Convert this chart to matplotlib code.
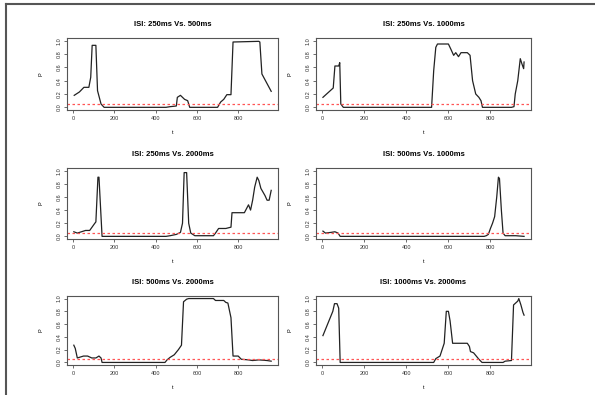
import matplotlib
matplotlib.use("Agg")
import matplotlib.pyplot as plt
from matplotlib.lines import Line2D

plt.rcParams["font.family"] = ["Liberation Sans", "DejaVu Sans"]

# panel titles
titles = [
    "ISI: 250ms Vs. 500ms", "ISI: 250ms Vs. 1000ms",
    "ISI: 250ms Vs. 2000ms", "ISI: 500ms Vs. 1000ms",
    "ISI: 500ms Vs. 2000ms", "ISI: 1000ms Vs. 2000ms",
]

# t / P curves
t1 = [5, 30, 52, 76, 85, 92, 110, 118, 135, 150, 450, 470, 500, 505, 520, 540, 555, 565,
      700, 715, 730, 745, 765, 775, 900, 905, 915, 960]
p1 = [0.18, 0.23, 0.3, 0.3, 0.45, 0.93, 0.93, 0.25, 0.05, 0.0, 0.0, 0.01, 0.02, 0.15, 0.18,
      0.12, 0.1, 0.0, 0.0, 0.08, 0.12, 0.19, 0.19, 0.98, 0.99, 0.98, 0.5, 0.24]

t2 = [3, 52, 60, 78, 83, 88, 100, 520, 530, 540, 548, 600, 612, 625, 635, 648, 660, 690,
      700, 703, 715, 730, 745, 755, 762, 900, 912, 918, 930, 942, 950, 958, 960]
p2 = [0.15, 0.29, 0.62, 0.62, 0.67, 0.05, 0.0, 0.0, 0.55, 0.9, 0.95, 0.95, 0.87, 0.78,
      0.82, 0.76, 0.82, 0.82, 0.79, 0.78, 0.4, 0.2, 0.15, 0.1, 0.0, 0.0, 0.01, 0.2, 0.4,
      0.73, 0.65, 0.58, 0.68]

t3 = [3, 20, 40, 60, 80, 105, 110, 120, 125, 140, 450, 470, 500, 520, 530, 538, 550, 560,
      570, 590, 680, 690, 705, 740, 765, 770, 830, 840, 850, 860, 870, 880, 892, 900, 910,
      930, 940, 950, 960]
p3 = [0.07, 0.05, 0.07, 0.09, 0.09, 0.2, 0.22, 0.9, 0.9, 0.0, 0.0, 0.01, 0.03, 0.06, 0.2,
      0.97, 0.97, 0.2, 0.05, 0.01, 0.01, 0.05, 0.12, 0.12, 0.14, 0.36, 0.36, 0.42, 0.48,
      0.4, 0.55, 0.75, 0.9, 0.85, 0.73, 0.62, 0.55, 0.55, 0.7]

t4 = [3, 15, 40, 60, 75, 85, 770, 780, 790, 800, 810, 820, 830, 838, 843, 852, 860, 870,
      920, 960]
p4 = [0.08, 0.05, 0.06, 0.07, 0.05, 0.0, 0.0, 0.01, 0.03, 0.12, 0.2, 0.3, 0.6, 0.9, 0.88,
      0.4, 0.05, 0.01, 0.01, 0.0]

t5 = [3, 10, 20, 30, 50, 70, 90, 110, 125, 135, 140, 445, 455, 470, 490, 510, 525, 535,
      550, 560, 680, 690, 730, 740, 750, 765, 775, 800, 815, 850, 870, 900, 940, 960]
p5 = [0.27, 0.22, 0.07, 0.08, 0.1, 0.1, 0.07, 0.07, 0.1, 0.07, 0.0, 0.0, 0.04, 0.08, 0.12,
      0.2, 0.27, 0.95, 0.99, 1.0, 1.0, 0.97, 0.97, 0.94, 0.93, 0.7, 0.1, 0.1, 0.05, 0.04,
      0.03, 0.04, 0.03, 0.02]

t6 = [3, 50, 58, 70, 78, 85, 530, 540, 560, 580, 590, 600, 608, 620, 690, 700, 705, 720,
      745, 760, 860, 870, 900, 910, 930, 935, 945, 955, 960]
p6 = [0.42, 0.8, 0.92, 0.92, 0.85, 0.0, 0.0, 0.06, 0.1, 0.3, 0.8, 0.8, 0.65, 0.3, 0.3,
      0.25, 0.17, 0.15, 0.05, 0.0, 0.0, 0.02, 0.03, 0.9, 0.96, 1.0, 0.9, 0.78, 0.74]

series = [(t1, p1), (t2, p2), (t3, p3), (t4, p4), (t5, p5), (t6, p6)]
alpha = 0.05

W, H = 595, 395
fig = plt.figure(figsize=(W / 100, H / 100), dpi=100)

# box positions in pixels: (left, right) and (top, bottom)
cols = [(67, 278), (316, 531)]
rows = [(38, 110), (168, 239), (296, 365)]

for i, (title, (t, p)) in enumerate(zip(titles, series)):
    x0, x1 = cols[i % 2]
    y0, y1 = rows[i // 2]
    ax = fig.add_axes([x0 / W, 1 - y1 / H, (x1 - x0) / W, (y1 - y0) / H])
    ax.plot(t, p, color="#222222", lw=0.9)
    ax.axhline(alpha, color="#ff5555", ls=(0, (2, 2)), lw=0.9)
    ax.set_xlim(-30, 993)
    ax.set_ylim(-0.04, 1.04)
    ax.set_xticks([0, 200, 400, 600, 800])
    ax.set_yticks([0.0, 0.2, 0.4, 0.6, 0.8, 1.0])
    ax.set_yticklabels(["0.0", "0.2", "0.4", "0.6", "0.8", "1.0"], rotation=90, va="center")
    ax.tick_params(labelsize=4, length=2, width=0.5, pad=2, colors="#333333")
    for s in ax.spines.values():
        s.set_linewidth(0.8)
        s.set_color("#555555")
    ax.set_title(title, fontsize=5.5, fontweight="bold", pad=9)
    ax.set_xlabel("t", fontsize=4, labelpad=7)
    ax.set_ylabel("P", fontsize=4, labelpad=9)

# frame on top and left edges
fig.add_artist(Line2D([6 / W, 1], [1 - 4 / H, 1 - 4 / H], color="#555555", lw=1.5))
fig.add_artist(Line2D([6 / W, 6 / W], [0, 1 - 4 / H], color="#555555", lw=1.5))

fig.savefig("out.png", dpi=100)
